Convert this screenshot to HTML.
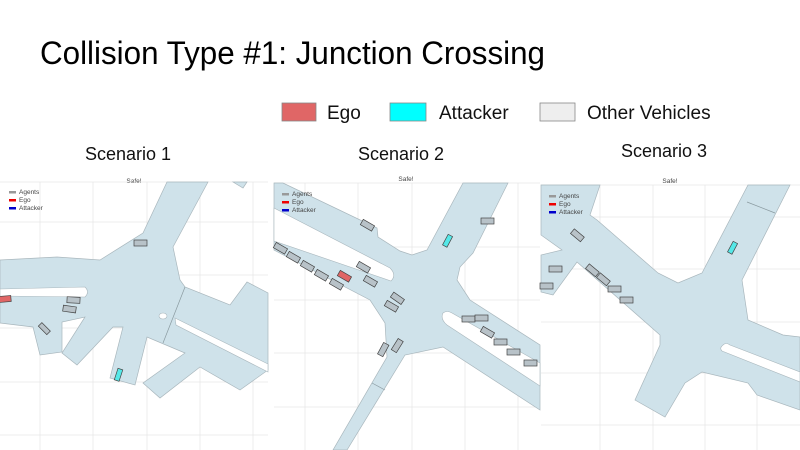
<!DOCTYPE html>
<html><head><meta charset="utf-8"><style>
html,body{margin:0;padding:0;background:#fff}
svg{display:block}
text{font-family:"Liberation Sans",Arial,sans-serif}
</style></head><body>
<svg width="800" height="450" viewBox="0 0 800 450" xmlns="http://www.w3.org/2000/svg">
<rect width="800" height="450" fill="#fff"/>
<text x="40" y="64" font-size="32" textLength="505" lengthAdjust="spacingAndGlyphs" fill="#000">Collision Type #1: Junction Crossing</text>
<rect x="282" y="103" width="34" height="18" fill="#e06666" stroke="#888" stroke-width="0.8"/>
<text x="327" y="119" font-size="19" fill="#111">Ego</text>
<rect x="390" y="103" width="36" height="18" fill="#00ffff" stroke="#888" stroke-width="0.8"/>
<text x="439" y="119" font-size="19" fill="#111">Attacker</text>
<rect x="540" y="103" width="35" height="18" fill="#eeeeee" stroke="#888" stroke-width="0.8"/>
<text x="587" y="119" font-size="19" fill="#111">Other Vehicles</text>
<text x="85" y="160" font-size="18" fill="#111">Scenario 1</text>
<text x="358" y="160" font-size="18" fill="#111">Scenario 2</text>
<text x="621" y="157" font-size="18" fill="#111">Scenario 3</text>

<!-- Panel 1 -->
<g>
<text x="134" y="183" font-size="6.5" fill="#444" text-anchor="middle">Safe!</text>
<g stroke="#e6e6e6" stroke-width="0.7">
<line x1="0" y1="182" x2="268" y2="182"/>
<line x1="40" y1="182" x2="40" y2="450"/><line x1="93" y1="182" x2="93" y2="450"/><line x1="147" y1="182" x2="147" y2="450"/><line x1="200" y1="182" x2="200" y2="450"/><line x1="253" y1="182" x2="253" y2="450"/>
<line x1="0" y1="222" x2="268" y2="222"/><line x1="0" y1="275" x2="268" y2="275"/><line x1="0" y1="328" x2="268" y2="328"/><line x1="0" y1="382" x2="268" y2="382"/><line x1="0" y1="435" x2="268" y2="435"/>
</g>
<polygon fill="#cfe2ea" stroke="#a9b7bd" stroke-width="0.7" points="167,182 208,182 173,247 180,280 185,287 230,305 247,282 268,293 268,370 240,390 200,367 160,398 143,383 185,353 147,337 135,385 110,378 123,327 113,327 77,365 62,353 85,317 62,322 62,352 40,355 33,327 0,323 0,260 57,257 100,260 143,233"/>
<polygon fill="#cfe2ea" stroke="#a9b7bd" stroke-width="0.7" points="233,182 247,182 243,188"/>
<path d="M0,289 L85,287 Q90,292 85,297 L0,296 Z" fill="#fff" stroke="#a9b7bd" stroke-width="0.6"/>
<polygon fill="#fff" stroke="#a9b7bd" stroke-width="0.6" points="175,318 268,364 268,372 176,325"/>
<ellipse cx="163" cy="316" rx="4" ry="3" fill="#fff" stroke="#a9b7bd" stroke-width="0.6"/>
<line x1="185" y1="287" x2="163" y2="343" stroke="#8a9aa0" stroke-width="0.7"/>
<g stroke="#444" stroke-width="0.7" fill="#b8c2c8">
<rect x="134" y="240" width="13" height="6"/>
<rect x="67" y="297" width="13" height="6" transform="rotate(3 73 300)"/>
<rect x="63" y="306" width="13" height="6" transform="rotate(8 69 309)"/>
<rect x="38" y="326" width="12" height="5" transform="rotate(45 44 329)"/>
<rect x="-2" y="296" width="13" height="6" fill="#e06666" transform="rotate(-5 5 299)"/>
<rect x="113" y="372" width="12" height="5" fill="#55e8e8" transform="rotate(-72 119 375)"/>
</g>
<rect x="9" y="191" width="7" height="2.5" fill="#999"/><text x="19" y="194" font-size="6.5" fill="#444">Agents</text>
<rect x="9" y="199" width="7" height="2.5" fill="#e00"/><text x="19" y="202" font-size="6.5" fill="#444">Ego</text>
<rect x="9" y="207" width="7" height="2.5" fill="#00c"/><text x="19" y="210" font-size="6.5" fill="#444">Attacker</text>
</g>

<!-- Panel 2 -->
<g>
<text x="406" y="181" font-size="6.5" fill="#444" text-anchor="middle">Safe!</text>
<g stroke="#e6e6e6" stroke-width="0.7">
<line x1="274" y1="183" x2="540" y2="183"/>
<line x1="305" y1="183" x2="305" y2="450"/><line x1="358" y1="183" x2="358" y2="450"/><line x1="412" y1="183" x2="412" y2="450"/><line x1="465" y1="183" x2="465" y2="450"/><line x1="518" y1="183" x2="518" y2="450"/>
<line x1="274" y1="247" x2="540" y2="247"/><line x1="274" y1="300" x2="540" y2="300"/><line x1="274" y1="353" x2="540" y2="353"/><line x1="274" y1="407" x2="540" y2="407"/>
</g>
<polygon fill="#cfe2ea" stroke="#a9b7bd" stroke-width="0.7" points="274,183 283,183 377,228 378,237 400,251 412,255 427,250 463,183 508,183 473,253 460,267 457,280 470,300 540,345 540,410 443,347 405,355 347,450 333,450 387,357 385,323 370,300 274,250"/>
<path d="M274,208 L390,268 Q397,275 391,281 L274,241 Z" fill="#fff" stroke="#a9b7bd" stroke-width="0.6"/>
<path d="M443,313 Q447,310 452,313 L540,363 L540,386 L447,325 Q440,319 443,313 Z" fill="#fff" stroke="#a9b7bd" stroke-width="0.6"/>
<line x1="372" y1="383" x2="385" y2="390" stroke="#8a9aa0" stroke-width="0.7"/>
<g stroke="#444" stroke-width="0.7" fill="#b8c2c8">
<rect x="361" y="222" width="13" height="6" transform="rotate(30 367 225)"/>
<rect x="442" y="238" width="12" height="5" fill="#55e8e8" transform="rotate(-62 448 241)"/>
<rect x="481" y="218" width="13" height="6"/>
<rect x="274" y="245" width="13" height="6" transform="rotate(30 280 248)"/>
<rect x="287" y="254" width="13" height="6" transform="rotate(30 293 257)"/>
<rect x="301" y="263" width="13" height="6" transform="rotate(30 307 266)"/>
<rect x="315" y="272" width="13" height="6" transform="rotate(30 321 275)"/>
<rect x="330" y="281" width="13" height="6" transform="rotate(30 336 284)"/>
<rect x="338" y="273" width="13" height="6" fill="#e06666" transform="rotate(30 344 276)"/>
<rect x="357" y="264" width="13" height="6" transform="rotate(30 363 267)"/>
<rect x="364" y="278" width="13" height="6" transform="rotate(30 370 281)"/>
<rect x="391" y="295" width="13" height="6" transform="rotate(35 397 298)"/>
<rect x="385" y="303" width="13" height="6" transform="rotate(30 391 306)"/>
<rect x="462" y="316" width="13" height="6"/>
<rect x="475" y="315" width="13" height="6"/>
<rect x="481" y="329" width="13" height="6" transform="rotate(30 487 332)"/>
<rect x="494" y="339" width="13" height="6"/>
<rect x="507" y="349" width="13" height="6"/>
<rect x="524" y="360" width="13" height="6"/>
<rect x="377" y="347" width="13" height="6" transform="rotate(-62 383 350)"/>
<rect x="391" y="343" width="13" height="6" transform="rotate(-58 397 346)"/>
</g>
<rect x="282" y="193" width="7" height="2.5" fill="#999"/><text x="292" y="196" font-size="6.5" fill="#444">Agents</text>
<rect x="282" y="201" width="7" height="2.5" fill="#e00"/><text x="292" y="204" font-size="6.5" fill="#444">Ego</text>
<rect x="282" y="209" width="7" height="2.5" fill="#00c"/><text x="292" y="212" font-size="6.5" fill="#444">Attacker</text>
</g>

<!-- Panel 3 -->
<g>
<text x="670" y="183" font-size="6.5" fill="#444" text-anchor="middle">Safe!</text>
<g stroke="#e6e6e6" stroke-width="0.7">
<line x1="541" y1="185" x2="800" y2="185"/>
<line x1="600" y1="185" x2="600" y2="450"/><line x1="653" y1="185" x2="653" y2="450"/><line x1="705" y1="185" x2="705" y2="450"/><line x1="757" y1="185" x2="757" y2="450"/>
<line x1="541" y1="217" x2="800" y2="217"/><line x1="541" y1="269" x2="800" y2="269"/><line x1="541" y1="322" x2="800" y2="322"/><line x1="541" y1="373" x2="800" y2="373"/><line x1="541" y1="425" x2="800" y2="425"/>
</g>
<polygon fill="#cfe2ea" stroke="#a9b7bd" stroke-width="0.7" points="541,185 600,185 590,215 597,220 620,240 658,273 678,283 702,273 748,185 790,185 742,280 748,320 783,335 800,337 800,410 757,395 748,383 702,372 685,383 665,417 635,400 660,345 660,335 577,262 553,295 541,292 541,255 562,250 541,235"/>
<path d="M723,345 Q726,342 730,345 L800,372 L800,382 L722,351 Q719,348 723,345 Z" fill="#fff" stroke="#a9b7bd" stroke-width="0.6"/>
<line x1="747" y1="202" x2="775" y2="213" stroke="#8a9aa0" stroke-width="0.7"/>
<g stroke="#444" stroke-width="0.7" fill="#b8c2c8">
<rect x="571" y="232" width="13" height="6" transform="rotate(40 577 235)"/>
<rect x="727" y="245" width="12" height="5" fill="#55e8e8" transform="rotate(-62 733 248)"/>
<rect x="549" y="266" width="13" height="6"/>
<rect x="540" y="283" width="13" height="6"/>
<rect x="586" y="267" width="13" height="6" transform="rotate(40 592 270)"/>
<rect x="597" y="276" width="13" height="6" transform="rotate(40 603 279)"/>
<rect x="608" y="286" width="13" height="6"/>
<rect x="620" y="297" width="13" height="6"/>
</g>
<rect x="549" y="195" width="7" height="2.5" fill="#999"/><text x="559" y="198" font-size="6.5" fill="#444">Agents</text>
<rect x="549" y="203" width="7" height="2.5" fill="#e00"/><text x="559" y="206" font-size="6.5" fill="#444">Ego</text>
<rect x="549" y="211" width="7" height="2.5" fill="#00c"/><text x="559" y="214" font-size="6.5" fill="#444">Attacker</text>
</g>
</svg>
</body></html>
